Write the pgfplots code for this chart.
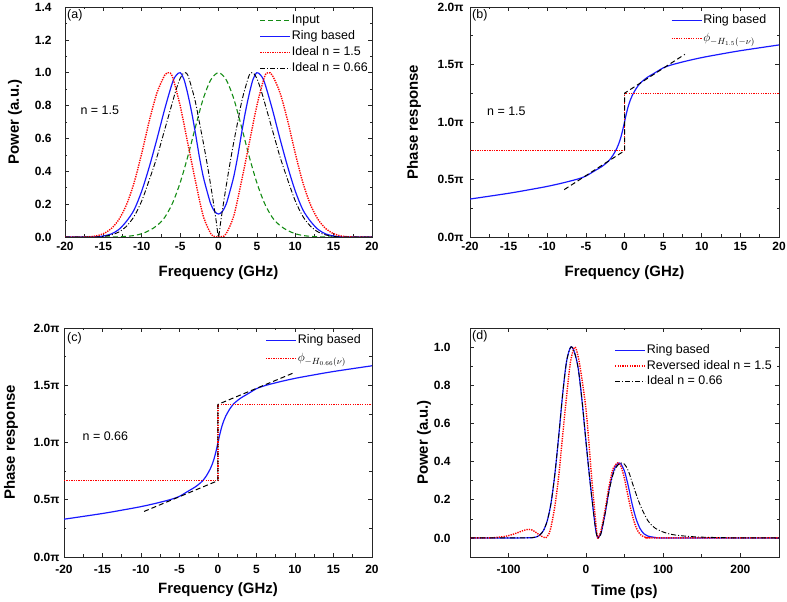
\documentclass[border=0pt]{standalone}
\usepackage{fontspec}
\setmainfont{Liberation Sans}
\usepackage{pgfplots}
\pgfplotsset{compat=1.18}
\definecolor{ringblue}{RGB}{25,25,255}
\definecolor{idealred}{RGB}{255,0,0}
\definecolor{inputgreen}{RGB}{20,140,20}
\tikzset{panel/.style={anchor=west, inner sep=0pt, font=\fontsize{12.5}{15}\selectfont}}
\pgfplotsset{
  myaxis/.style={
    scale only axis,
    axis line style={black!85, line width=0.8pt},
    every tick/.style={black!85, line width=0.6pt},
    major tick length=4bp, minor tick length=2.5bp,
    minor x tick num=1, minor y tick num=1,
    every tick label/.append style={font=\fontsize{12}{14}\selectfont\bfseries},
    xticklabel style={font=\fontsize{12}{14}\selectfont\bfseries, yshift=-2bp},
    yticklabel style={font=\fontsize{12}{14}\selectfont\bfseries},
    /pgf/number format/assume math mode=true,
    label style={font=\fontsize{15}{18}\selectfont\bfseries},
    legend cell align=left,
    legend image code/.code={\draw[##1] (0bp,0bp) -- (30bp,0bp);},
    legend style={draw=none, fill=none, font=\fontsize{12.5}{15}\selectfont,
      inner sep=0pt, row sep=2bp,
      nodes={inner sep=1bp, text height=9bp, text depth=3bp},
      at={(rel axis cs:1,1)}, anchor=north east},
  },
  ringline/.style={color=ringblue, line width=1.2bp, smooth},
  redline/.style={color=idealred, line width=1.4bp, dash pattern=on 1.3bp off 1.1bp, smooth},
  greenline/.style={color=inputgreen, line width=1.1bp, dash pattern=on 5bp off 3bp, smooth},
  blackdd/.style={color=black, line width=0.9bp, dash pattern=on 5bp off 2bp on 1bp off 2bp, smooth},
  blackdash/.style={color=black, line width=1bp, dash pattern=on 5bp off 3bp},
}
\begin{document}
\begin{tikzpicture}
\path[use as bounding box] (0,0) rectangle (787bp,602bp);

% ---------------- (a) ----------------
\begin{axis}[myaxis, at={(65bp,365bp)}, anchor=south west,
  width=307bp, height=230bp,
  xmin=-20, xmax=20, ymin=0, ymax=1.4,
  xtick={-20,-15,...,20}, ytick={0,0.2,...,1.4},
  yticklabel style={xshift=-10bp, /pgf/number format/fixed, /pgf/number format/fixed zerofill, /pgf/number format/precision=1},
  xlabel={Frequency (GHz)}, ylabel={Power (a.u.)},
  xlabel style={at={(axis description cs:0.5,-0.157)}, anchor=center},
  ylabel style={at={(axis description cs:-0.163,0.5)}, anchor=center},
  legend style={xshift=-3bp, yshift=-6.5bp},
]
\addplot[greenline] coordinates {
(-20,0) (-15,0) (-13,0.001) (-12,0.004) (-11,0.009) (-10,0.02) (-9,0.04) (-8,0.07) (-7,0.12) (-6,0.205) (-5,0.33) (-4,0.49) (-3,0.67) (-2,0.84) (-1,0.957) (0,1)
(1,0.957) (2,0.84) (3,0.67) (4,0.49) (5,0.33) (6,0.205) (7,0.12) (8,0.07) (9,0.04) (10,0.02) (11,0.009) (12,0.004) (13,0.001) (15,0) (20,0)};
\addlegendentry{Input}
\addplot[ringline] coordinates {
(-20,0) (-17,0) (-16,0.001) (-15,0.006) (-14,0.018) (-13,0.045) (-12,0.095) (-11,0.165) (-10,0.28) (-9,0.43) (-8,0.6) (-7,0.78) (-6,0.94) (-5.5,0.985) (-5,1) (-4.5,0.96) (-4,0.87) (-3.5,0.76) (-3,0.63) (-2.5,0.49) (-2,0.37) (-1.5,0.28) (-1,0.2) (-0.5,0.155) (0,0.14)
(0.5,0.155) (1,0.2) (1.5,0.28) (2,0.37) (2.5,0.49) (3,0.63) (3.5,0.76) (4,0.87) (4.5,0.96) (5,1) (5.5,0.985) (6,0.94) (7,0.78) (8,0.6) (9,0.43) (10,0.28) (11,0.165) (12,0.095) (13,0.045) (14,0.018) (15,0.006) (16,0.001) (17,0) (20,0)};
\addlegendentry{Ring based}
\addplot[redline] coordinates {
(-20,0) (-18,0) (-17,0.001) (-16,0.006) (-15,0.02) (-14,0.05) (-13,0.105) (-12,0.195) (-11,0.33) (-10,0.51) (-9,0.71) (-8,0.88) (-7,0.985) (-6.5,1) (-6,0.975) (-5,0.8) (-4,0.57) (-3,0.34) (-2,0.13) (-1,0.02) (-0.5,0.003) (0,0)
(0.5,0.003) (1,0.02) (2,0.13) (3,0.34) (4,0.57) (5,0.8) (6,0.975) (6.5,1) (7,0.985) (8,0.88) (9,0.71) (10,0.51) (11,0.33) (12,0.195) (13,0.105) (14,0.05) (15,0.02) (16,0.006) (17,0.001) (18,0) (20,0)};
\addlegendentry{Ideal n = 1.5}
\addplot[blackdd] coordinates {
(-20,0) (-16,0) (-15,0.004) (-14,0.012) (-13,0.03) (-12,0.065) (-11,0.125) (-10,0.22) (-9,0.35) (-8,0.49) (-7,0.655) (-6,0.82) (-5.5,0.9) (-5,0.965) (-4.6,0.995) (-4.3,1) (-4,0.985) (-3.5,0.91) (-3,0.82) (-2.5,0.7) (-2,0.58) (-1.5,0.45) (-1,0.31) (-0.5,0.16) (-0.25,0.08) (0,0)
(0.25,0.08) (0.5,0.16) (1,0.31) (1.5,0.45) (2,0.58) (2.5,0.7) (3,0.82) (3.5,0.91) (4,0.985) (4.3,1) (4.6,0.995) (5,0.965) (5.5,0.9) (6,0.82) (7,0.655) (8,0.49) (9,0.35) (10,0.22) (11,0.125) (12,0.065) (13,0.03) (14,0.012) (15,0.004) (16,0) (20,0)};
\addlegendentry{Ideal n = 0.66}
\node[panel] at (rel axis cs:0,1) [xshift=2bp, yshift=-8bp] {(a)};
\node[panel] at (axis cs:-18,0.77) {n = 1.5};
\end{axis}

% ---------------- (b) ----------------
\begin{axis}[myaxis, at={(470bp,365bp)}, anchor=south west,
  width=309bp, height=230bp,
  xmin=-20, xmax=20, ymin=0, ymax=2,
  xtick={-20,-15,...,20}, ytick={0,0.5,1,1.5,2},
  yticklabels={0.0π,0.5π,1.0π,1.5π,2.0π},
  yticklabel style={xshift=-3bp},
  xlabel={Frequency (GHz)}, ylabel={Phase response},
  xlabel style={at={(axis description cs:0.5,-0.157)}, anchor=center},
  ylabel style={at={(axis description cs:-0.181,0.5)}, anchor=center},
  legend style={xshift=-11.5bp, yshift=-6.3bp, row sep=4.3bp},
]
\addplot[ringline, forget plot] coordinates {
(-20,0.33) (-15,0.38) (-12,0.415) (-10,0.44) (-8,0.47) (-6,0.505) (-5,0.53) (-4,0.57) (-3,0.61) (-2.5,0.635) (-2,0.665) (-1.5,0.71) (-1,0.77) (-0.75,0.81) (-0.5,0.86) (-0.25,0.925) (0,1)
(0.25,1.075) (0.5,1.14) (0.75,1.19) (1,1.23) (1.5,1.29) (2,1.335) (2.5,1.365) (3,1.39) (4,1.43) (5,1.47) (6,1.495) (8,1.53) (10,1.56) (12,1.585) (15,1.62) (20,1.67)};
\addplot[redline, sharp plot, forget plot] coordinates {(-20,0.75) (0,0.75) (0,1.25) (20,1.25)};
\addplot[blackdash, forget plot] coordinates {(-7.8,0.412) (0,0.75) (0,1.25) (7.8,1.588)};
\addlegendimage{color=ringblue, line width=1.5bp}
\addlegendentry{Ring based}
\addlegendimage{color=idealred, line width=1.4bp, dash pattern=on 1.3bp off 1.1bp}
\addlegendentry{$\phi_{-H_{1.5}(-\nu)}$}
\node[panel] at (rel axis cs:0,1) [xshift=2bp, yshift=-8bp] {(b)};
\node[panel] at (axis cs:-17.8,1.09) {n = 1.5};
\end{axis}

% ---------------- (c) ----------------
\begin{axis}[myaxis, at={(64bp,45bp)}, anchor=south west,
  width=308bp, height=229bp,
  xmin=-20, xmax=20, ymin=0, ymax=2,
  xtick={-20,-15,...,20}, ytick={0,0.5,1,1.5,2},
  yticklabels={0.0π,0.5π,1.0π,1.5π,2.0π},
  yticklabel style={xshift=-1bp},
  xticklabel style={yshift=-3bp},
  xlabel={Frequency (GHz)}, ylabel={Phase response},
  xlabel style={at={(axis description cs:0.5,-0.144)}, anchor=center},
  ylabel style={at={(axis description cs:-0.172,0.5)}, anchor=center},
  legend style={xshift=-10bp, yshift=-5.5bp, row sep=4bp},
]
\addplot[ringline, forget plot] coordinates {
(-20,0.33) (-15,0.38) (-12,0.415) (-10,0.44) (-8,0.47) (-6,0.505) (-5,0.53) (-4,0.57) (-3,0.61) (-2.5,0.635) (-2,0.665) (-1.5,0.71) (-1,0.77) (-0.75,0.81) (-0.5,0.86) (-0.25,0.925) (0,1)
(0.25,1.075) (0.5,1.14) (0.75,1.19) (1,1.23) (1.5,1.29) (2,1.335) (2.5,1.365) (3,1.39) (4,1.43) (5,1.47) (6,1.495) (8,1.53) (10,1.56) (12,1.585) (15,1.62) (20,1.67)};
\addplot[redline, sharp plot, forget plot] coordinates {(-20,0.667) (0,0.667) (0,1.333) (20,1.333)};
\addplot[blackdash, forget plot] coordinates {(-9.6,0.398) (0,0.667) (0,1.333) (10,1.613)};
\addlegendimage{color=ringblue, line width=1.2bp}
\addlegendentry{Ring based}
\addlegendimage{color=idealred, line width=1.4bp, dash pattern=on 1.3bp off 1.1bp}
\addlegendentry{$\phi_{-H_{0.66}(\nu)}$}
\node[panel] at (rel axis cs:0,1) [xshift=3bp, yshift=-10bp] {(c)};
\node[panel] at (axis cs:-17.6,1.057) {n = 0.66};
\end{axis}

% ---------------- (d) ----------------
\begin{axis}[myaxis, at={(470bp,45bp)}, anchor=south west,
  width=309bp, height=229bp,
  xmin=-150, xmax=250, ymin=-0.1, ymax=1.1,
  xtick={-100,0,100,200}, ytick={0,0.2,...,1.0},
  yticklabel style={xshift=-16bp, /pgf/number format/fixed, /pgf/number format/fixed zerofill, /pgf/number format/precision=1},
  xticklabel style={yshift=-3bp},
  xlabel={Time (ps)}, ylabel={Power (a.u.)},
  xlabel style={at={(axis description cs:0.5,-0.153)}, anchor=center},
  ylabel style={at={(axis description cs:-0.149,0.5)}, anchor=center},
  legend style={xshift=-6bp, yshift=-15.5bp, row sep=1.5bp},
]
\addplot[ringline] coordinates {
(-150,0) (-100,0) (-80,0.0002) (-70,0.001) (-65,0.004) (-60,0.014) (-55,0.038) (-50,0.09) (-45,0.185) (-40,0.34) (-35,0.54) (-30,0.755) (-25,0.925) (-19.6,1) (-15,0.975) (-10,0.89) (-5,0.72) (0,0.51) (5,0.31) (10,0.13) (13,0.035) (15.5,0) (18,0.012) (20,0.03) (25,0.13) (30,0.25) (35,0.34) (40,0.385) (43,0.393) (45,0.39) (50,0.35) (55,0.27) (60,0.175) (65,0.1) (70,0.05) (75,0.022) (80,0.01) (90,0.002) (100,0) (250,0)};
\addlegendentry{Ring based}
\addplot[redline] coordinates {
(-150,0) (-130,0) (-120,0.001) (-110,0.005) (-100,0.012) (-90,0.025) (-80,0.04) (-74,0.045) (-70,0.042) (-65,0.03) (-60,0.015) (-55,0.004) (-52,0) (-48,0.02) (-45,0.06) (-40,0.17) (-35,0.33) (-30,0.54) (-25,0.74) (-20,0.92) (-14.5,1) (-10,0.95) (-5,0.83) (0,0.68) (3.5,0.52) (7,0.34) (11,0.16) (13,0.07) (15.2,0) (18,0.02) (20,0.045) (25,0.15) (30,0.27) (35,0.36) (41,0.393) (45,0.38) (50,0.31) (55,0.21) (60,0.12) (65,0.055) (70,0.02) (75,0.006) (80,0.001) (90,0) (250,0)};
\addlegendentry{Reversed ideal n = 1.5}
\addplot[blackdd] coordinates {
(-150,0) (-100,0) (-80,0.0002) (-70,0.001) (-65,0.004) (-60,0.014) (-55,0.038) (-50,0.09) (-45,0.185) (-40,0.34) (-35,0.54) (-30,0.755) (-25,0.925) (-19.6,1) (-15,0.975) (-10,0.89) (-5,0.72) (0,0.51) (5,0.31) (10,0.13) (13,0.035) (15.5,0) (18,0.01) (20,0.03) (25,0.13) (30,0.245) (35,0.33) (40,0.375) (45,0.392) (48,0.393) (52,0.375) (56,0.34) (60,0.29) (65,0.23) (70,0.175) (75,0.13) (80,0.092) (85,0.067) (90,0.05) (100,0.031) (110,0.019) (120,0.013) (130,0.009) (140,0.006) (150,0.004) (170,0.002) (200,0) (250,0)};
\addlegendentry{Ideal n = 0.66}
\node[panel] at (rel axis cs:0,1) [xshift=2bp, yshift=-8bp] {(d)};
\end{axis}
\end{tikzpicture}
\end{document}
